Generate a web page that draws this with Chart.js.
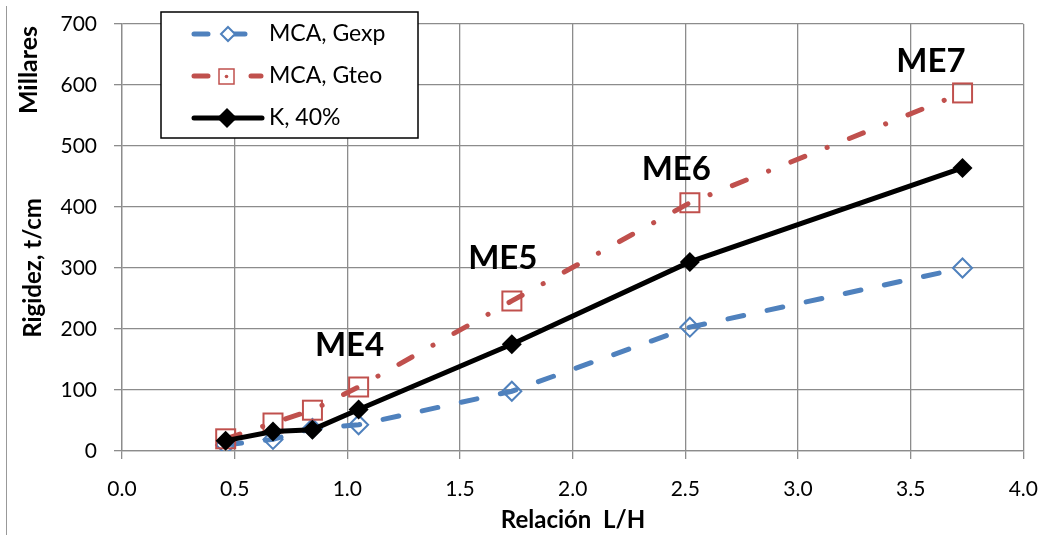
<!DOCTYPE html>
<html>
<head>
<meta charset="utf-8">
<script src="https://cdn.jsdelivr.net/npm/chart.js@4/dist/chart.umd.min.js"></script>
<style>
    html, body { margin: 0; padding: 0; background: #fff; }
    #wrap { position: relative; width: 1056px; height: 535px; }
    #frame { position: absolute; left: 6px; top: 6px; width: 1060px; height: 540px; border-left: 1.5px solid #999; box-sizing: border-box; pointer-events: none; }
</style>
</head>
<body>
<div id="wrap">
    <canvas id="chart" width="1056" height="535"></canvas>
    <div id="frame"></div>
</div>
<script>
// Relación L/H de cada muro
const relacionLH = [0.46, 0.67, 0.845, 1.05, 1.73, 2.52, 3.73];

// Rigidez (miles de t/cm)
const gexp = [10, 19, 37, 43, 98, 203, 300];
const gteo = [20, 46, 67, 105, 246, 407, 587];
const k40 = [17, 32, 35, 68, 175, 310, 464];

const serieNombres = ["MCA, Gexp", "MCA, Gteo", "K, 40%"];

// etiquetas de los modelos
const modelos = ["ME4", "ME5", "ME6", "ME7"];
const modeloX = [1.01, 1.69, 2.46, 3.59];
const modeloY = [174, 316, 461, 638];

const azul = "#4F81BD";
const rojo = "#C0504D";
const fuente = "Lato, 'Open Sans', sans-serif";

const puntos = (ys) => relacionLH.map((x, i) => ({x: x, y: ys[i]}));

const dashAzul = [16, 24];
const dashRojo = [15, 24, 0.1, 24];

// marcador cuadrado (Gteo)
function cuadrado(size) {
    const c = document.createElement("canvas");
    c.width = size + 4; c.height = size + 4;
    const g = c.getContext("2d");
    g.strokeStyle = rojo; g.lineWidth = 2;
    g.strokeRect(2, 2, size, size);
    return c;
}

const etiquetasPlugin = {
    id: "etiquetas",
    afterDatasetsDraw(chart) {
        const {ctx, scales} = chart;
        ctx.save();
        ctx.fillStyle = "#000";
        ctx.font = "bold 33px " + fuente;
        ctx.textAlign = "center";
        ctx.textBaseline = "middle";
        modelos.forEach((m, i) => {
            ctx.fillText(m, scales.x.getPixelForValue(modeloX[i]), scales.y.getPixelForValue(modeloY[i]));
        });

        // titulos de ejes
        ctx.font = "bold 24px " + fuente;
        ctx.fillText("Relación  L/H", 573, 520);
        ctx.save();
        ctx.translate(33, 268);
        ctx.rotate(-Math.PI / 2);
        ctx.fillText("Rigidez, t/cm", 0, 0);
        ctx.restore();
        ctx.save();
        ctx.font = "bold 25px " + fuente;
        ctx.translate(29, 70);
        ctx.rotate(-Math.PI / 2);
        ctx.fillText("Millares", 0, 0);
        ctx.restore();

        // leyenda
        const lx = 161, ly = 12, lw = 257, lh = 126;
        ctx.fillStyle = "#fff";
        ctx.fillRect(lx, ly, lw, lh);
        ctx.strokeStyle = "#000";
        ctx.lineWidth = 1.5;
        ctx.strokeRect(lx, ly, lw, lh);

        ctx.textAlign = "left";
        ctx.font = "23px " + fuente;
        ctx.fillStyle = "#000";
        const filas = [34, 76, 118];
        filas.forEach((y, i) => ctx.fillText(serieNombres[i], 269, y));

        ctx.lineCap = "round";
        // Gexp
        ctx.strokeStyle = azul; ctx.lineWidth = 5;
        ctx.beginPath(); ctx.moveTo(194, 34); ctx.lineTo(208, 34); ctx.moveTo(233, 34); ctx.lineTo(245, 34); ctx.stroke();
        ctx.lineWidth = 2;
        ctx.beginPath(); ctx.moveTo(228, 27); ctx.lineTo(235, 34); ctx.lineTo(228, 41); ctx.lineTo(221, 34); ctx.closePath();
        ctx.fillStyle = "#fff"; ctx.fill(); ctx.stroke();
        // Gteo
        ctx.strokeStyle = rojo; ctx.lineWidth = 5;
        ctx.beginPath(); ctx.moveTo(194, 76); ctx.lineTo(208, 76); ctx.moveTo(251, 76); ctx.lineTo(261, 76); ctx.stroke();
        ctx.lineWidth = 1.5;
        ctx.strokeRect(219, 69, 15, 15);
        ctx.fillStyle = rojo;
        ctx.beginPath(); ctx.arc(226.5, 76.5, 1.8, 0, Math.PI * 2); ctx.fill();
        // K
        ctx.strokeStyle = "#000"; ctx.lineWidth = 5;
        ctx.beginPath(); ctx.moveTo(194, 118); ctx.lineTo(262, 118); ctx.stroke();
        ctx.fillStyle = "#000";
        ctx.beginPath(); ctx.moveTo(227, 108); ctx.lineTo(237, 118); ctx.lineTo(227, 128); ctx.lineTo(217, 118); ctx.closePath(); ctx.fill();
        ctx.restore();
    }
};

new Chart(document.getElementById("chart").getContext("2d"), {
    type: "line",
    data: {
        datasets: [
            {
                label: serieNombres[0],
                data: puntos(gexp),
                order: 3,
                borderColor: azul,
                borderWidth: 5,
                borderDash: dashAzul,
                borderCapStyle: "round",
                pointStyle: "rectRot",
                pointRadius: 9.5,
                pointBorderWidth: 2,
                pointBorderColor: azul,
                pointBackgroundColor: "rgba(255,255,255,0)",
                tension: 0
            },
            {
                label: serieNombres[1],
                data: puntos(gteo),
                order: 2,
                borderColor: rojo,
                borderWidth: 5,
                borderDash: dashRojo,
                borderCapStyle: "round",
                pointStyle: cuadrado(19),
                pointRadius: 10,
                tension: 0
            },
            {
                label: serieNombres[2],
                data: puntos(k40),
                order: 1,
                borderColor: "#000",
                borderWidth: 5,
                pointStyle: "rectRot",
                pointRadius: 10,
                pointBorderWidth: 0,
                pointBackgroundColor: "#000",
                pointBorderColor: "#000",
                tension: 0
            }
        ]
    },
    options: {
        responsive: false,
        animation: false,
        layout: {autoPadding: false, padding: {left: 0, right: 32, top: 24, bottom: 0}},
        plugins: {
            legend: {display: false},
            tooltip: {enabled: false}
        },
        scales: {
            x: {
                type: "linear",
                min: 0,
                max: 4,
                ticks: {
                    stepSize: 0.5,
                    color: "#000",
                    font: {family: fuente, size: 21},
                    padding: 18,
                    callback: (v) => v.toFixed(1),
                    maxRotation: 0
                },
                grid: {color: "#8c8c8c", lineWidth: 1.3, tickLength: 8, tickColor: "#8c8c8c"},
                border: {color: "#8c8c8c", width: 1.3},
                afterFit: (s) => { s.height = 84; }
            },
            y: {
                min: 0,
                max: 700,
                ticks: {
                    stepSize: 100,
                    color: "#000",
                    font: {family: fuente, size: 21},
                    padding: 17
                },
                grid: {color: "#8c8c8c", lineWidth: 1.3, tickLength: 8, tickColor: "#8c8c8c"},
                border: {color: "#8c8c8c", width: 1.3},
                afterFit: (s) => { s.width = 122; s.paddingTop = 0; s.paddingBottom = 0; }
            }
        }
    },
    plugins: [etiquetasPlugin]
});
</script>
</body>
</html>
